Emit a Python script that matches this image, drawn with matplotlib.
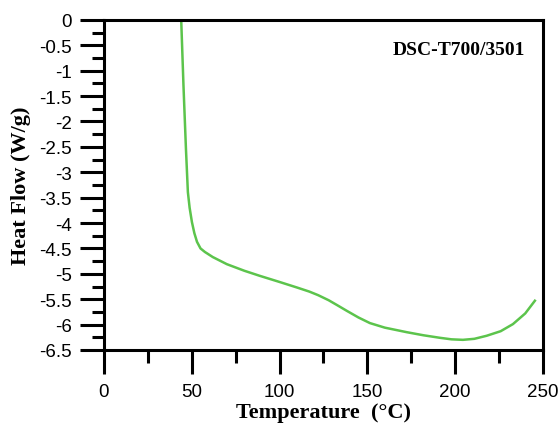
import numpy as np
import matplotlib
matplotlib.use("Agg")
import matplotlib.pyplot as plt
from matplotlib.ticker import MultipleLocator

# DSC curve
temp = [44.0, 45.3, 46.7, 47.8, 48.8, 50.1, 51.5, 53.0, 55.0, 57.5, 62.0, 70.0,
        80.0, 88.8, 100.0, 110.0, 117.0, 122.0, 128.0, 133.0, 138.4, 145.0, 151.5,
        160.0, 172.6, 182.0, 191.4, 198.0, 204.5, 211.0, 218.0, 226.0, 233.0,
        240.0, 245.5]
heat_flow = [0.0, -1.3, -2.54, -3.39, -3.7, -3.98, -4.2, -4.37, -4.5, -4.57,
             -4.67, -4.81, -4.94, -5.04, -5.16, -5.27, -5.35, -5.42, -5.52, -5.62,
             -5.73, -5.86, -5.97, -6.06, -6.15, -6.21, -6.26, -6.29, -6.30,
             -6.28, -6.22, -6.13, -5.99, -5.78, -5.53]
label = "DSC-T700/3501"

plt.rcParams['font.family'] = ['Liberation Sans', 'DejaVu Sans']
serif = ['Liberation Serif', 'DejaVu Serif']

fig = plt.figure(figsize=(5.59, 4.27), dpi=100)
ax = fig.add_axes([0.186, 0.178, 0.785, 0.773])

ax.plot(temp, heat_flow, color='#5cc44c', lw=1.8)

ax.set_xlim(0, 250)
ax.set_ylim(-6.5, 0)
ax.xaxis.set_major_locator(MultipleLocator(50))
ax.xaxis.set_minor_locator(MultipleLocator(25))
ax.yaxis.set_major_locator(MultipleLocator(0.5))
ax.yaxis.set_minor_locator(MultipleLocator(0.25))
ax.yaxis.set_major_formatter(plt.FuncFormatter(lambda v, p: '0' if v == 0 else '%g' % v))

for s in ax.spines.values():
    s.set_linewidth(2.2)
ax.tick_params(which='major', direction='out', length=17, width=2.2, labelsize=13.5, pad=6)
ax.tick_params(which='minor', direction='out', length=9, width=2.2)
ax.tick_params(axis='x', which='major', pad=7)

ax.set_xlabel('Temperature  (°C)', family=serif, fontweight='bold', fontsize=16, labelpad=1)
ax.set_ylabel('Heat Flow (W/g)', family=serif, fontweight='bold', fontsize=16, labelpad=6)

ax.text(0.96, 0.91, label, transform=ax.transAxes, ha='right', va='center',
        family=serif, fontweight='bold', fontsize=14)

fig.savefig('out.png', dpi=100)
